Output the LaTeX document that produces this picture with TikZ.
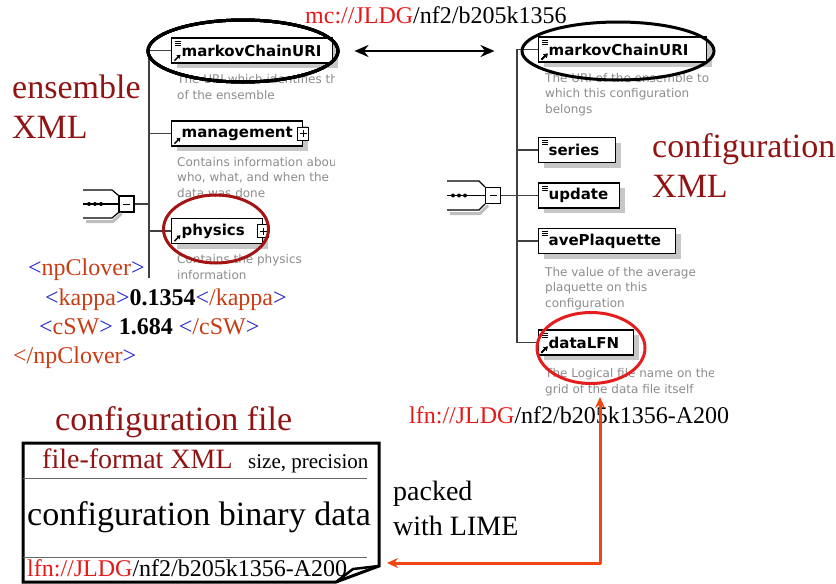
\documentclass[tikz,border=0pt]{standalone}
\usepackage{fontspec}
\setmainfont{Liberation Serif}
\newfontfamily\schemafont{DejaVu Sans}
\usetikzlibrary{arrows.meta,shapes.geometric,shadows}
\definecolor{titlered}{RGB}{145,20,20}
\definecolor{urired}{RGB}{230,25,25}
\definecolor{tagblue}{RGB}{35,35,200}
\definecolor{tagname}{RGB}{200,60,20}
\definecolor{packorange}{RGB}{240,70,20}
\definecolor{ringred}{RGB}{165,20,20}
\definecolor{ringbright}{RGB}{228,30,30}
\definecolor{descgray}{RGB}{140,140,140}
\newcommand\fsz[1]{\fontsize{#1}{#1}\selectfont}
\newcommand\tg[1]{\textcolor{tagblue}{<}\textcolor{tagname}{#1}\textcolor{tagblue}{>}}
\newcommand\etg[1]{\textcolor{tagblue}{<}\textcolor{tagname}{/#1}\textcolor{tagblue}{>}}
% small marks inside the schema boxes
\newcommand\listicon[1]{\draw[line width=0.7pt] ([xshift=4pt,yshift=-3.5pt]#1.north west) -- ++(6pt,0pt)
 ([xshift=4pt,yshift=-5.5pt]#1.north west) -- ++(6pt,0pt) ([xshift=4pt,yshift=-7.5pt]#1.north west) -- ++(6pt,0pt);}
\newcommand\reficon[1]{\draw[line width=1.3pt,-{Triangle[length=3.5pt,width=4.5pt]}] ([xshift=3.5pt,yshift=3pt]#1.south west) -- ++(6pt,6pt);}
\tikzset{
 elem/.style={draw, line width=1.3pt, fill=white, text width=#1, inner xsep=10pt, inner ysep=0pt,
  minimum height=25pt, align=left, font=\schemafont\bfseries\fsz{15},
  drop shadow={shadow xshift=5pt, shadow yshift=-5pt, fill=black!22, opacity=1}},
 desc/.style={anchor=base west, align=left, inner sep=0pt, text=descgray, font=\schemafont\fontsize{12}{15.5}\selectfont},
 title/.style={anchor=base west, inner sep=0pt, text=titlered, font=\fsz{34}},
 xmltag/.style={anchor=base west, inner sep=0pt, font=\fsz{24}},
 ring/.style={ellipse, draw=#1, line width=3pt, inner sep=0pt},
 tree/.style={line width=1.3pt, black!75},
 plusbox/.style={draw, line width=1pt, fill=white, minimum width=11pt, minimum height=13pt, inner sep=0pt,
  path picture={\draw[line width=0.9pt] ([xshift=-3.5pt]path picture bounding box.center) -- ++(7pt,0pt)
   ([yshift=-3.5pt]path picture bounding box.center) -- ++(0pt,7pt);}},
 seqbox/.style={draw, line width=1.2pt, fill=white, minimum width=15pt, minimum height=16pt, inner sep=0pt,
  path picture={\draw[line width=0.8pt] ([xshift=-3.5pt]path picture bounding box.center) -- ++(7pt,0pt);}},
 biarrow/.style={line width=2.5pt, {Stealth[length=14pt,width=12pt]}-{Stealth[length=14pt,width=12pt]}},
 packarrow/.style={draw=packorange, line width=3pt, line join=round, {Stealth[length=11pt,width=10pt]}-{Stealth[length=11pt,width=10pt]}}
}
\begin{document}
\begin{tikzpicture}[x=1pt,y=-1pt]
\useasboundingbox (0,0) rectangle (836,584);
\node[xmltag] (mcuri) at (305,23) {\textcolor{urired}{mc://JLDG}/nf2/b205k1356};
\node[title] (ensL) at (12,98) {ensemble};
\node[title] (xmlL) at (12,138) {XML};
\node[title] (confR) at (652,157) {configuration};
\node[title] (xmlR) at (652,197) {XML};
% ensemble schema (multi-line texts hang on their last line)
\begin{scope}
\clip (171,60) rectangle (334,290);
\node[desc] (dmcL) at (177,99) {The URI which identifies the\\of the ensemble};
\node[desc] (dmgmt) at (177,197) {Contains information about\\who, what, and when the\\data was done};
\node[desc] (dphys) at (177,279) {Contains the physics\\information};
\end{scope}
\coordinate (trunkL) at (149,278);
\node[seqbox] (seqL) at (126.5,204) {};
\draw[black!25, line width=3pt] (86,221.5) -- (113,221.5) -- (121.5,213.5);
\draw[line width=1.2pt] (83,190) -- (112,190) -- (seqL.north west);
\draw[line width=1.2pt] (83,218) -- (112,218) -- (seqL.south west);
\draw[line width=1.2pt] (83,204) -- (seqL.west);
\foreach \x in {89,95,101} \fill (\x,204) circle (2pt);
\node[elem=141pt, anchor=west] (mcL) at (171,50.5) {markovChainURI};
\node[elem=111pt, anchor=west] (mgmtL) at (171,133.5) {management};
\node[elem=71pt, anchor=west] (physL) at (171,231) {physics};
\node[plusbox] (mgmtPlus) at (mgmtL.east) {};
\node[plusbox] (physPlus) at (physL.east) {};
\draw[tree] (mcL.west) -| (trunkL);
\draw[tree] (mgmtL.west) -- (mgmtL.west -| trunkL);
\draw[tree] (physL.west) -- (physL.west -| trunkL);
\draw[tree] (seqL.east) -- (seqL.east -| trunkL);
\listicon{mcL}
\reficon{mcL}
\reficon{mgmtL}
\reficon{physL}
% configuration schema
\begin{scope}
\clip (538,60) rectangle (713,400);
\node[desc] (dmcR) at (545,113) {The URI of the ensemble to\\which this configuration\\belongs};
\node[desc] (daveP) at (545,307) {The value of the average\\plaquette on this\\configuration};
\node[desc] (dLFN) at (545,393) {The Logical file name on the\\grid of the data file itself};
\end{scope}
\coordinate (trunkR) at (517,342.5);
\node[seqbox] (seqR) at (493,195.5) {};
\draw[black!25, line width=3pt] (450,213.5) -- (480,213.5) -- (488,205.5);
\draw[line width=1.2pt] (447,181) -- (479,181) -- (seqR.north west);
\draw[line width=1.2pt] (447,210) -- (479,210) -- (seqR.south west);
\draw[line width=1.2pt] (447,195.5) -- (seqR.west);
\foreach \x in {453,459,465} \fill (\x,195.5) circle (2pt);
\node[elem=148pt, anchor=west] (mcR) at (538,49.5) {markovChainURI};
\node[elem=57pt, anchor=west] (series) at (538,150) {series};
\node[elem=61pt, anchor=west] (update) at (538,195.5) {update};
\node[elem=117pt, anchor=west] (aveP) at (538,241) {avePlaquette};
\node[elem=75pt, anchor=west] (dataLFN) at (538,342.5) {dataLFN};
\draw[tree] (mcR.west) -| (trunkR) -- (dataLFN.west);
\draw[tree] (series.west) -- (series.west -| trunkR);
\draw[tree] (seqR.east) -- (update.west);
\draw[tree] (aveP.west) -- (aveP.west -| trunkR);
\foreach \n in {mcR,series,update,aveP,dataLFN} \listicon{\n}
\reficon{mcR}
\reficon{dataLFN}
% rings and the link between the two URIs
\node[ring=black, minimum width=190pt, minimum height=62pt] (ringL) at (243,51) {};
\node[ring=black, minimum width=192pt, minimum height=58pt] (ringR) at (618,51) {};
\node[ring=ringred, minimum width=105pt, minimum height=68pt] (ringPhys) at (216,229) {};
\node[ring=ringbright, minimum width=108pt, minimum height=71pt] (ringLFN) at (591,348) {};
\draw[biarrow, shorten <=15pt, shorten >=26pt] (ringL.east) -- (ringR.west);
% physics parameters
\node[xmltag] (npOpen) at (28,275) {\tg{npClover}};
\node[xmltag] (kappa) at (45,305) {\tg{kappa}\textbf{0.1354}\etg{kappa}};
\node[xmltag] (csw) at (39,334) {\tg{cSW} \textbf{1.684} \etg{cSW}};
\node[xmltag] (npClose) at (13,363) {\textcolor{tagname}{</npClover}\textcolor{tagblue}{>}};
% configuration file
\node[xmltag] (lfnTop) at (409,423) {\textcolor{urired}{lfn://JLDG}/nf2/b205k1356-A200};
\node[title] (cfile) at (55,430) {configuration file};
\draw[line width=3pt, fill=white] (23,443) -- (379,443) -- (379,566) -- (336,582) -- (23,582) -- cycle;
\draw[black!60, line width=0.8pt] (23,478) -- (367,478) (23,557) -- (367,557);
\node[anchor=base west, inner sep=0pt, font=\fsz{28}, text=titlered] (ffxml) at (42,468) {file-format XML};
\node[anchor=base west, inner sep=0pt, font=\fsz{21}] (sizeprec) at (248,468) {size, precision};
\node[anchor=base west, inner sep=0pt, font=\fsz{34}] (bindata) at (27,525) {configuration binary data};
\node[xmltag] (lfnBot) at (27,576) {\textcolor{urired}{lfn://JLDG}/nf2/b205k1356-A200};
\draw[line width=2.5pt, line join=round] (379,566) -- (353,569) -- (336,582);
\node[anchor=base west, inner sep=0pt, align=left, font=\fontsize{28}{35}\selectfont] (packed) at (393,535) {packed\\with LIME};
\coordinate (lfnTip) at (600,397);
\coordinate (bend) at (600,563);
\coordinate (fileEdge) at (379,563);
\draw[packarrow, shorten >=8pt] (lfnTip) -- (bend) -- (fileEdge);
\end{tikzpicture}
\end{document}
